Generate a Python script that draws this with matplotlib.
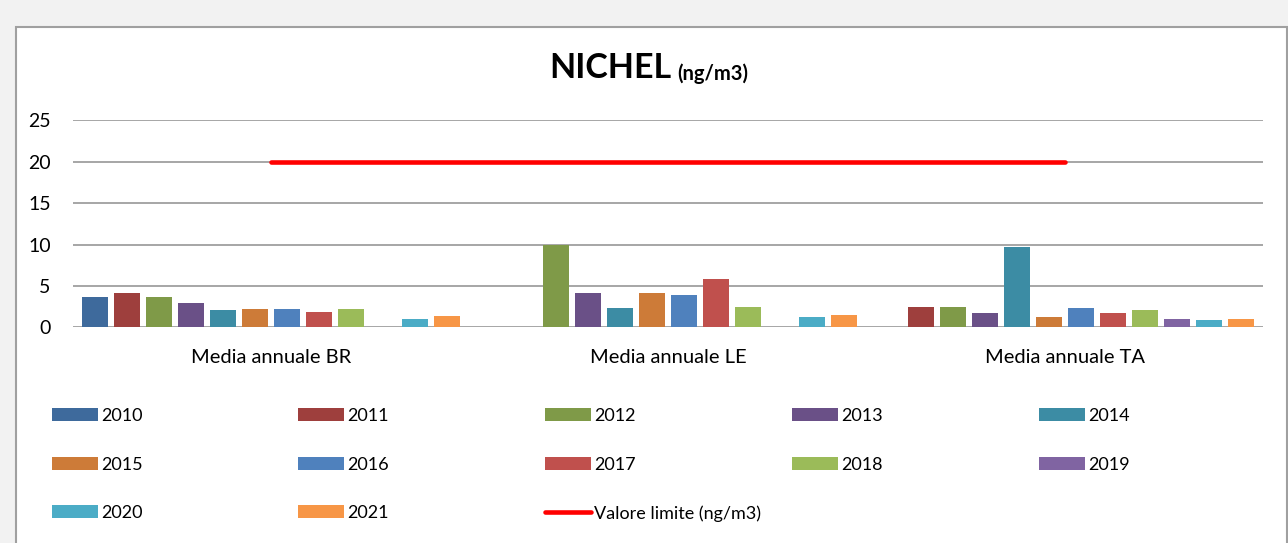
import numpy as np
import matplotlib
matplotlib.use('Agg')
import matplotlib.pyplot as plt
from matplotlib.patches import Rectangle, Patch
from matplotlib.lines import Line2D

# ---------------- data ----------------
categories = ['Media annuale BR', 'Media annuale LE', 'Media annuale TA']
years = ['2010', '2011', '2012', '2013', '2014', '2015',
         '2016', '2017', '2018', '2019', '2020', '2021']
nan = np.nan
v2010 = [3.7, nan, nan]
v2011 = [4.1, nan, 2.5]
v2012 = [3.7, 9.9, 2.5]
v2013 = [2.9, 4.2, 1.7]
v2014 = [2.1, 2.3, 9.7]
v2015 = [2.2, 4.2, 1.3]
v2016 = [2.2, 3.9, 2.3]
v2017 = [1.9, 5.8, 1.7]
v2018 = [2.2, 2.5, 2.1]
v2019 = [nan, nan, 1.0]
v2020 = [1.0, 1.3, 0.9]
v2021 = [1.4, 1.5, 1.0]
series = [v2010, v2011, v2012, v2013, v2014, v2015,
          v2016, v2017, v2018, v2019, v2020, v2021]
limit_label = 'Valore limite (ng/m3)'
limit_values = [20, 20, 20]
yticks = [0, 5, 10, 15, 20, 25]

colors = ['#3E6A9C', '#9E3F3D', '#7F9A48', '#6A5087', '#3C8CA4', '#CD7B38',
          '#4F81BD', '#C0504D', '#9BBB59', '#8064A2', '#4BACC6', '#F79646']

FONT = 'Lato'
W, H = 1288, 543
fig = plt.figure(figsize=(W / 100, H / 100), dpi=100)
fig.patch.set_facecolor('#F2F2F2')

# chart area (white box with border)
fig.add_artist(Rectangle((16 / W, -0.02), (1287 - 16) / W, (543 - 27) / H + 0.02,
                         transform=fig.transFigure, facecolor='white',
                         edgecolor='#A0A0A0', lw=1.5, zorder=0))

ax_left, ax_right = 73, 1263
y0_px, ytop_px = 327.3, 120.3
ax = fig.add_axes([ax_left / W, (H - y0_px) / H, (ax_right - ax_left) / W,
                   (y0_px - ytop_px) / H])
ax.set_facecolor('none')
ax.set_xlim(-0.5, len(categories) - 0.5)
ax.set_ylim(0, 25)
for s in ax.spines.values():
    s.set_visible(False)
ax.set_yticks(yticks)
ax.yaxis.grid(True, color='#8E8E8E', lw=1.1)
ax.set_axisbelow(True)
ax.tick_params(axis='both', length=0, colors='#000000')
ax.tick_params(axis='y', pad=16, labelsize=14)
ax.tick_params(axis='x', pad=15.5, labelsize=14.5)

x = np.arange(len(categories))
pitch = 32 / ((ax_right - ax_left) / 3)
bw = 26 / ((ax_right - ax_left) / 3)
for i, (vals, c) in enumerate(zip(series, colors)):
    ax.bar(x + (i - 5.5) * pitch, vals, width=bw, color=c, zorder=2)

ax.plot(x, limit_values, color='#FF0000', lw=3.3, solid_capstyle='round', zorder=3)
ax.set_xticks(x)
ax.set_xticklabels(categories)
for lab in ax.get_xticklabels() + ax.get_yticklabels():
    lab.set_fontfamily(FONT)

# title
fig.text(671 / W, 1 - 78.5 / H, 'NICHEL', ha='right', va='baseline',
         fontsize=24.5, fontweight='bold', family=FONT)
fig.text(677 / W, 1 - 80 / H, '(ng/m3)', ha='left', va='baseline',
         fontsize=14.5, fontweight='bold', family=FONT)

# legend, five columns of fixed width
handles = [Patch(facecolor=c, edgecolor='none') for c in colors]
handles.append(Line2D([0], [0], color='#FF0000', lw=3.3, solid_capstyle='round'))
labels = years + [limit_label]
col_x = [52, 298, 545, 792, 1039]
fs = 13
fs_px = fs / 72 * 100
for j, cx in enumerate(col_x):
    idx = list(range(j, len(labels), 5))
    leg = fig.legend([handles[k] for k in idx], [labels[k] for k in idx],
                     loc='upper left', bbox_to_anchor=(cx / W, 1 - 408 / H),
                     bbox_transform=fig.transFigure, frameon=False,
                     borderpad=0, borderaxespad=0,
                     handlelength=46 / fs_px, handleheight=13 / fs_px,
                     handletextpad=3 / fs_px, labelspacing=1.8,
                     prop={'family': FONT, 'size': fs})

fig.savefig('out.png', dpi=100, facecolor=fig.get_facecolor())
